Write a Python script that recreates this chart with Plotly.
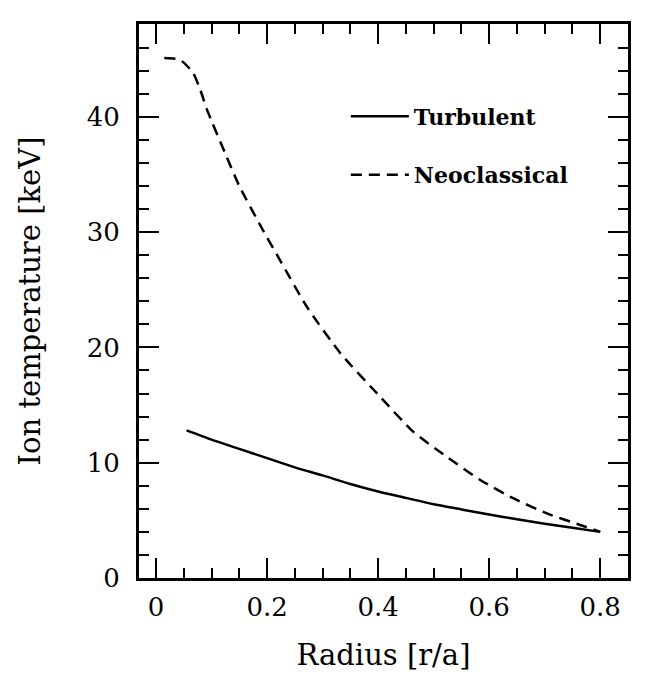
import plotly.graph_objects as go

# turbulent profile
r_turb = [0.055, 0.1, 0.15, 0.2, 0.25, 0.3, 0.35, 0.4, 0.45, 0.5, 0.55, 0.6, 0.65, 0.7, 0.75, 0.8]
ti_turb = [12.8, 12.0, 11.2, 10.4, 9.6, 8.9, 8.15, 7.5, 6.95, 6.4, 5.95, 5.5, 5.1, 4.7, 4.35, 4.0]

# neoclassical profile
r_neo = [0.015, 0.04, 0.05, 0.067, 0.08, 0.092, 0.124, 0.15, 0.19, 0.223, 0.272, 0.332,
         0.404, 0.463, 0.524, 0.584, 0.644, 0.704, 0.764, 0.8]
ti_neo = [45.1, 45.0, 44.7, 43.8, 42.3, 40.6, 36.9, 34.0, 30.4, 27.6, 23.5, 19.5,
          15.7, 12.7, 10.5, 8.5, 6.9, 5.6, 4.6, 4.0]

font_fam = "DejaVu Serif"

fig = go.Figure()
fig.add_trace(go.Scatter(x=r_turb, y=ti_turb, mode="lines", name="Turbulent",
                         legendgroup="a",
                         line=dict(color="black", width=2.5, shape="spline", smoothing=0.6)))
fig.add_trace(go.Scatter(x=r_neo, y=ti_neo, mode="lines", name="Neoclassical",
                         legendgroup="b",
                         line=dict(color="black", width=2.5, dash="11px,7px",
                                   shape="spline", smoothing=0.6)))

axis_common = dict(
    showline=True, linecolor="black", linewidth=3, mirror="ticks",
    ticks="inside", ticklen=20, tickwidth=2, tickcolor="black",
    showgrid=False, zeroline=False,
    tickfont=dict(family=font_fam, size=26, color="black"),
)

fig.update_xaxes(range=[-0.0306, 0.85], dtick=0.2, tick0=0,
                 minor=dict(dtick=0.05, ticks="inside", ticklen=10, tickwidth=2, tickcolor="black"),
                 title=dict(text="Radius [r/a]", font=dict(family=font_fam, size=29, color="black"),
                            standoff=24),
                 ticklabelstandoff=4,
                 **axis_common)
fig.update_yaxes(range=[0, 48.05], dtick=10, tick0=0,
                 minor=dict(dtick=2, ticks="inside", ticklen=10, tickwidth=2, tickcolor="black"),
                 title=dict(text="Ion temperature [keV]", font=dict(family=font_fam, size=29, color="black"),
                            standoff=38),
                 ticklabelstandoff=11,
                 **axis_common)

# the page puts the plot 8px in from the window edge, so margins are trimmed by that
fig.update_layout(
    width=649, height=692,
    margin=dict(l=131, r=29, t=16, b=122),
    paper_bgcolor="white", plot_bgcolor="white",
    legend=dict(x=0.423, y=0.871, xanchor="left", yanchor="top",
                font=dict(family=font_fam, size=22, color="black", weight="bold"),
                bgcolor="rgba(0,0,0,0)", tracegroupgap=27, itemwidth=58),
)

fig.write_html("out.html")
